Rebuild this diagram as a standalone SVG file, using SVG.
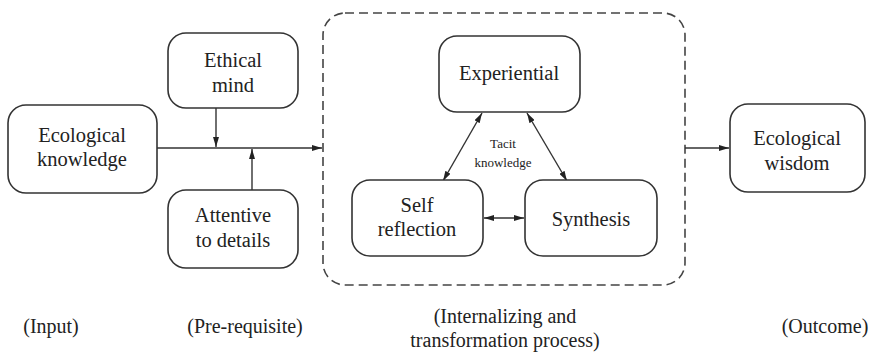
<svg xmlns="http://www.w3.org/2000/svg" width="872" height="358" viewBox="0 0 872 358">
<style>
.box{fill:#fff;stroke:#333;stroke-width:1.6}
.ln{fill:none;stroke:#333;stroke-width:1.4}
</style>
<defs>
<marker id="ah" viewBox="0 0 10 6" refX="10" refY="3" markerWidth="10" markerHeight="6" markerUnits="userSpaceOnUse" orient="auto-start-reverse">
<path d="M0,0 L10,3 L0,6 z" fill="#222"/>
</marker>
</defs>
<rect x="0" y="0" width="872" height="358" fill="#fff"/>
<g id="process-frame">
<rect x="323" y="13" width="362" height="272" rx="22" fill="none" stroke="#444" stroke-width="1.6" stroke-dasharray="9,5"/>
</g>
<g id="connectors">
<line class="ln" x1="157" y1="148" x2="322" y2="148" marker-end="url(#ah)"/>
<line class="ln" x1="216" y1="108" x2="216" y2="147" marker-end="url(#ah)"/>
<line class="ln" x1="252" y1="190" x2="252" y2="149" marker-end="url(#ah)"/>
<line class="ln" x1="685" y1="148" x2="729" y2="148" marker-end="url(#ah)"/>
<line class="ln" x1="482" y1="113" x2="443" y2="181" marker-start="url(#ah)" marker-end="url(#ah)"/>
<line class="ln" x1="527" y1="113" x2="567" y2="181" marker-start="url(#ah)" marker-end="url(#ah)"/>
<line class="ln" x1="484" y1="218" x2="524" y2="218" marker-start="url(#ah)" marker-end="url(#ah)"/>
</g>
<g font-family="'Liberation Serif', 'Times New Roman', Times, 'DejaVu Serif', serif" font-size="20.5" fill="#222" text-anchor="middle">
<g id="ecological-knowledge">
<rect class="box" x="8" y="105" width="149" height="88" rx="18"/>
<text x="82" y="142">Ecological</text>
<text x="82" y="166">knowledge</text>
</g>
<g id="ethical-mind">
<rect class="box" x="168" y="33" width="130" height="75" rx="18"/>
<text x="233" y="67">Ethical</text>
<text x="233" y="92">mind</text>
</g>
<g id="attentive">
<rect class="box" x="168" y="190" width="130" height="78" rx="18"/>
<text x="233" y="222">Attentive</text>
<text x="233" y="247">to details</text>
</g>
<g id="experiential">
<rect class="box" x="439" y="36" width="141" height="76" rx="18"/>
<text x="509" y="80">Experiential</text>
</g>
<g id="tacit" font-size="13">
<text x="503" y="148">Tacit</text>
<text x="503" y="167">knowledge</text>
</g>
<g id="self-reflection">
<rect class="box" x="352" y="180" width="131" height="76" rx="18"/>
<text x="417" y="212">Self</text>
<text x="417" y="236">reflection</text>
</g>
<g id="synthesis">
<rect class="box" x="525" y="180" width="132" height="76" rx="18"/>
<text x="591" y="226">Synthesis</text>
</g>
<g id="ecological-wisdom">
<rect class="box" x="730" y="104" width="135" height="88" rx="18"/>
<text x="797" y="145">Ecological</text>
<text x="797" y="170">wisdom</text>
</g>
<g id="labels" font-size="20">
<text x="51" y="333">(Input)</text>
<text x="245" y="333">(Pre-requisite)</text>
<text x="505" y="323">(Internalizing and</text>
<text x="505" y="347">transformation process)</text>
<text x="825" y="333">(Outcome)</text>
</g>
</g>
</svg>
